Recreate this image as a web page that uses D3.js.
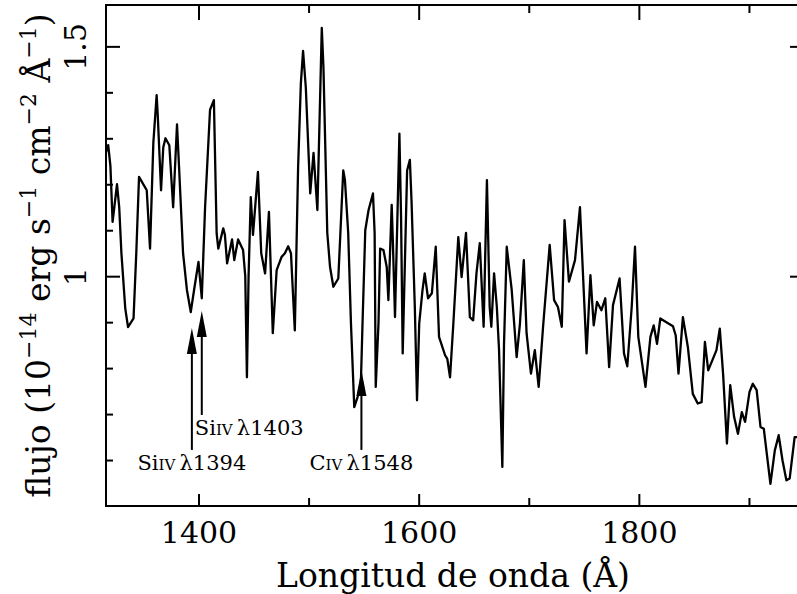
<!DOCTYPE html>
<html>
<head>
<meta charset="utf-8">
<script src="https://cdn.jsdelivr.net/npm/d3@7"></script>
<style>
  html, body { margin: 0; padding: 0; background: #fff; }
  svg { display: block; }
  text { font-family: "DejaVu Serif", serif; fill: #000; }
</style>
</head>
<body>
<svg id="chart" width="797" height="594"></svg>
<script>
// Spectrum: wavelength (Å) and flux (1e-14 erg s^-1 cm^-2 Å^-1)
const wavelength = [
  1316, 1318, 1320, 1322, 1326, 1328, 1330, 1333.5, 1336, 1341,
  1343.5, 1346, 1353, 1356, 1359, 1362, 1363, 1366, 1368, 1370,
  1373.5, 1377, 1380.5, 1382.5, 1386, 1389.5, 1393, 1396, 1400, 1403,
  1406, 1410.5, 1414, 1416.5, 1418, 1422.5, 1424, 1426, 1430.5, 1432.5,
  1436, 1440.5, 1442.5, 1444, 1445.5, 1447.5, 1449.5, 1454, 1457, 1460.5,
  1464, 1467.5, 1471, 1475.5, 1478.5, 1481.5, 1484, 1487.5, 1490.5, 1493,
  1495, 1497.5, 1501.5, 1504.5, 1508, 1512, 1513.5, 1517, 1519.5, 1522.5,
  1527, 1531.5, 1533, 1536, 1538.5, 1541.5, 1544.5, 1547.5, 1549, 1551.5,
  1554.5, 1558.5, 1560, 1561, 1563.5, 1565, 1568, 1571, 1572.5, 1575.5,
  1576.5, 1578.5, 1582.5, 1584, 1585.5, 1589.5, 1592, 1593.5, 1596.5, 1598.5,
  1600.5, 1603.5, 1605.5, 1608.5, 1612, 1615.5, 1618.5, 1624, 1626, 1628.5,
  1631.5, 1636, 1639, 1643, 1646.5, 1649.5, 1652.5, 1655.5, 1659, 1662,
  1664.5, 1666, 1668.5, 1671, 1673, 1676, 1677.5, 1680, 1684.5, 1689,
  1692, 1695.5, 1698, 1702, 1705.5, 1709, 1713, 1719, 1723, 1726.5,
  1730, 1732.5, 1736.5, 1742, 1746.5, 1752.5, 1756, 1759, 1762, 1766,
  1769.5, 1773, 1776.5, 1782.5, 1786.5, 1789.5, 1793.5, 1796.5, 1799.5, 1806,
  1810.5, 1813.5, 1816.5, 1819.5, 1825, 1831, 1833.5, 1836, 1840, 1844.5,
  1849, 1853.5, 1857, 1860, 1863, 1870.5, 1873.5, 1876.5, 1880, 1883,
  1886.5, 1890, 1893.5, 1896.5, 1900.5, 1903.5, 1907, 1910.5, 1913.5, 1919.5,
  1923.5, 1927, 1930.5, 1934, 1937, 1941.5, 1945
];
const flux = [
  1.27, 1.285, 1.24, 1.118, 1.20, 1.15, 1.05, 0.93, 0.889, 0.908,
  1.05, 1.216, 1.187, 1.06, 1.29, 1.394, 1.35, 1.187, 1.28, 1.30,
  1.285, 1.15, 1.33, 1.23, 1.05, 0.97, 0.922, 0.97, 1.031, 0.952,
  1.15, 1.362, 1.383, 1.093, 1.06, 1.104, 1.09, 1.028, 1.08, 1.035,
  1.08, 1.057, 1.0, 0.78, 1.0, 1.172, 1.09, 1.227, 1.05, 1.006,
  1.14, 0.876, 1.013, 1.042, 1.05, 1.065, 1.05, 0.882, 1.238, 1.42,
  1.49, 1.41, 1.18, 1.268, 1.144, 1.54, 1.455, 1.094, 1.02, 0.977,
  0.995, 1.23, 1.21, 1.094, 0.897, 0.715, 0.737, 0.767, 0.897, 1.10,
  1.144, 1.18, 1.094, 0.759, 0.897, 1.06, 1.057, 1.02, 0.948, 1.155,
  1.08, 0.911, 1.31, 1.13, 0.832, 1.23, 1.253, 1.165, 0.933, 0.73,
  0.897, 0.97, 1.006, 0.952, 0.963, 1.064, 0.868, 0.828, 0.82, 0.78,
  0.897, 1.085, 0.998, 1.094, 0.911, 0.904, 1.006, 1.072, 0.89, 1.209,
  0.933, 0.89, 1.006, 0.933, 0.84, 0.585, 0.85, 1.064, 0.97, 0.824,
  0.897, 1.035, 0.876, 0.788, 0.839, 0.759, 0.89, 1.068, 0.948, 0.933,
  0.89, 1.122, 0.988, 1.035, 1.15, 0.832, 1.002, 0.893, 0.944, 0.926,
  0.952, 0.802, 0.937, 0.995, 0.832, 0.804, 0.933, 1.064, 0.868, 0.759,
  0.868, 0.893, 0.853, 0.908, 0.90, 0.891, 0.871, 0.788, 0.911, 0.846,
  0.744, 0.723, 0.726, 0.857, 0.795, 0.839, 0.886, 0.788, 0.636, 0.763,
  0.694, 0.657, 0.704, 0.683, 0.748, 0.766, 0.752, 0.672, 0.668, 0.548,
  0.621, 0.654, 0.599, 0.556, 0.56, 0.65, 0.65
];

// Axis ticks
const xMajorTicks = [1400, 1600, 1800];
const xMinorTicks = [1500, 1700, 1900];
const yMajorTicks = [1, 1.5];
const yMinorTicks = [0.6, 0.7, 0.8, 0.9, 1.1, 1.2, 1.3, 1.4];

// Line identifications: rest wavelength, arrow tip and tail in flux units
const lineIons = ["Si", "Si", "C"];
const lineStages = ["IV", "IV", "IV"];
const lineWavelengths = [1394, 1403, 1548];
const arrowTips = [0.887, 0.924, 0.796];
const arrowTails = [0.622, 0.698, 0.622];
const labelAnchors = ["middle", "start", "middle"];

const xTitle = "Longitud de onda (Å)";

const svg = d3.select("#chart");
const plotLeft = 106, plotRight = 804, plotTop = 5, plotBottom = 506;

const x = d3.scaleLinear().domain([1316, 1950]).range([plotLeft, plotRight]);
const y = d3.scaleLinear().domain([0.5, 1.59]).range([plotBottom, plotTop]);

svg.append("defs").append("clipPath").attr("id", "plot-clip")
  .append("rect").attr("x", plotLeft).attr("y", plotTop)
  .attr("width", plotRight - plotLeft).attr("height", plotBottom - plotTop);

// spectrum
const pts = wavelength.map((w, i) => [w, flux[i]]);
svg.append("path")
  .datum(pts)
  .attr("clip-path", "url(#plot-clip)")
  .attr("fill", "none")
  .attr("stroke", "#000")
  .attr("stroke-width", 2.3)
  .attr("stroke-linejoin", "round")
  .attr("d", d3.line().x(d => x(d[0])).y(d => y(d[1])));

// frame
svg.append("rect")
  .attr("x", plotLeft).attr("y", plotTop)
  .attr("width", plotRight - plotLeft).attr("height", plotBottom - plotTop)
  .attr("fill", "none").attr("stroke", "#000").attr("stroke-width", 2);

function styleAxis(g) {
  g.select(".domain").remove();
  g.selectAll(".tick line").attr("stroke", "#000").attr("stroke-width", 2);
}

// bottom axis
svg.append("g").attr("transform", `translate(0,${plotBottom})`)
  .call(d3.axisBottom(x).tickValues(xMajorTicks).tickSize(-12).tickPadding(16)
    .tickFormat(d3.format("d")))
  .call(styleAxis)
  .call(g => g.selectAll("text").attr("font-family", "DejaVu Serif")
    .attr("font-size", 30).attr("fill", "#000"));
svg.append("g").attr("transform", `translate(0,${plotBottom})`)
  .call(d3.axisBottom(x).tickValues(xMinorTicks).tickSize(-8).tickFormat(""))
  .call(styleAxis);

// top axis
svg.append("g").attr("transform", `translate(0,${plotTop})`)
  .call(d3.axisTop(x).tickValues(xMajorTicks).tickSize(-15).tickFormat(""))
  .call(styleAxis);
svg.append("g").attr("transform", `translate(0,${plotTop})`)
  .call(d3.axisTop(x).tickValues(xMinorTicks).tickSize(-8).tickFormat(""))
  .call(styleAxis);

// left axis with rotated labels
svg.append("g").attr("transform", `translate(${plotLeft},0)`)
  .call(d3.axisLeft(y).tickValues(yMajorTicks).tickSize(-14).tickFormat(d3.format("")))
  .call(styleAxis)
  .call(g => g.selectAll("text")
    .attr("font-family", "DejaVu Serif").attr("font-size", 30).attr("fill", "#000")
    .attr("text-anchor", "middle").attr("dy", 0)
    .attr("x", 0).attr("y", -20)
    .attr("transform", "rotate(-90)"));
svg.append("g").attr("transform", `translate(${plotLeft},0)`)
  .call(d3.axisLeft(y).tickValues(yMinorTicks).tickSize(-7).tickFormat(""))
  .call(styleAxis);

// right axis
svg.append("g").attr("transform", `translate(${plotRight},0)`)
  .call(d3.axisRight(y).tickValues(yMajorTicks).tickSize(-14).tickFormat(""))
  .call(styleAxis);
svg.append("g").attr("transform", `translate(${plotRight},0)`)
  .call(d3.axisRight(y).tickValues(yMinorTicks).tickSize(-7).tickFormat(""))
  .call(styleAxis);

// axis titles
svg.append("text")
  .attr("x", (plotLeft + plotRight) / 2 - 2).attr("y", 587)
  .attr("text-anchor", "middle").attr("font-size", 33)
  .text(xTitle);

const yTitle = svg.append("text")
  .attr("transform", `translate(50,${(plotTop + plotBottom) / 2}) rotate(-90)`)
  .attr("text-anchor", "middle").attr("font-size", 33);
const yTitleParts = [
  ["flujo (10", false], ["\u221214", true], [" erg s", false], ["\u22121", true],
  [" cm", false], ["\u22122", true], [" Å", false], ["\u22121", true], [")", false]
];
yTitleParts.forEach(([t, sup], i) => {
  const prevSup = i > 0 && yTitleParts[i - 1][1];
  const ts = yTitle.append("tspan").text(t);
  if (sup) ts.attr("font-size", 22).attr("dy", -14);
  else if (prevSup) ts.attr("dy", 14);
});

// line identification arrows and labels
const arrows = svg.append("g");
lineWavelengths.forEach((w, i) => {
  const ax = x(w), yTip = y(arrowTips[i]), yTail = y(arrowTails[i]);
  const headLen = 26, headHalf = 5;
  arrows.append("line")
    .attr("x1", ax).attr("x2", ax)
    .attr("y1", yTail).attr("y2", yTip + headLen - 2)
    .attr("stroke", "#000").attr("stroke-width", 2);
  arrows.append("path")
    .attr("d", `M${ax},${yTip} L${ax - headHalf},${yTip + headLen} L${ax + headHalf},${yTip + headLen} Z`)
    .attr("fill", "#000");
  const anchor = labelAnchors[i];
  const lx = anchor === "start" ? ax - 7 : ax;
  const t = arrows.append("text")
    .attr("x", lx).attr("y", yTail + 20)
    .attr("text-anchor", anchor).attr("font-size", 21);
  t.append("tspan").text(lineIons[i]);
  t.append("tspan").attr("font-size", 15).text(lineStages[i]);
  t.append("tspan").text("\u2009λ" + w);
});
</script>
</body>
</html>
